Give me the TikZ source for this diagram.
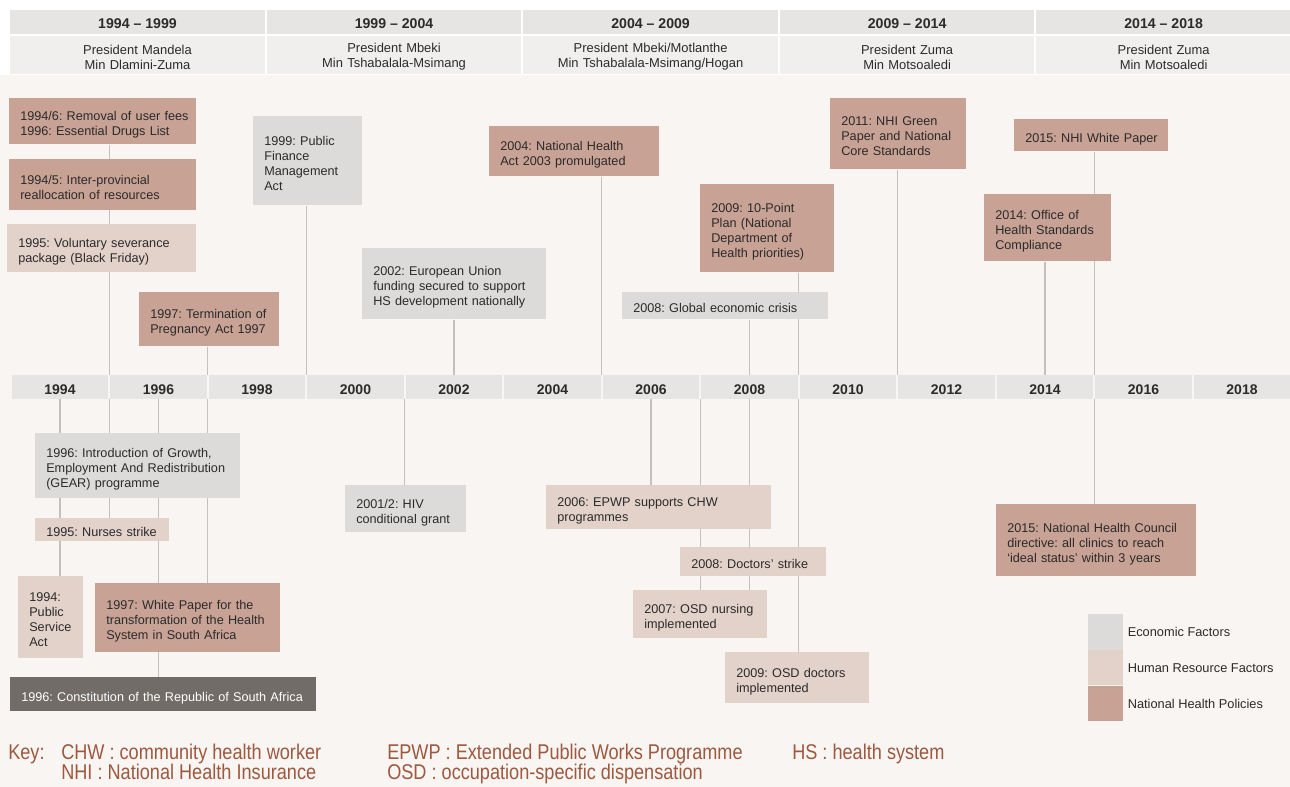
\documentclass[tikz,border=0pt]{standalone}
\usepackage{fontspec}
\setmainfont{Liberation Sans}
\newfontfamily\keyfont[FakeStretch=0.85]{Liberation Sans}
\usetikzlibrary{positioning}

\definecolor{cream}{HTML}{F9F5F2}
\definecolor{headA}{HTML}{E6E5E3}
\definecolor{headB}{HTML}{F0EFEE}
\definecolor{econ}{HTML}{DCDBD9}
\definecolor{hres}{HTML}{E3D2CA}
\definecolor{npol}{HTML}{C8A294}
\definecolor{darkbox}{HTML}{716C68}
\definecolor{stemgray}{HTML}{C4C0BD}
\definecolor{ink}{HTML}{2B2B2B}
\definecolor{keybrown}{HTML}{9E583E}

\pgfdeclarelayer{backdrop}
\pgfdeclarelayer{stems}
\pgfsetlayers{backdrop,stems,main}

\begin{document}
\frenchspacing
\begin{tikzpicture}[x=0.75pt, y=-0.75pt,
    every node/.style={text=ink, font=\fontsize{9.5}{11.25}\selectfont},
    evbox/.style 2 args={anchor=north west, inner sep=0pt, align=left, text height=13.8pt,
      minimum width=#1*0.75pt, minimum height=#2*0.75pt, text width=#1*0.75pt,
      execute at begin node={\leftskip=8.25pt}, execute at end node={\strut}},
    econ/.style={fill=econ},
    hres/.style={fill=hres},
    npol/.style={fill=npol},
    constbox/.style={fill=darkbox, text=white},
    stem/.style={draw=stemgray, line width=1.1pt},
    headyr/.style={anchor=north west, fill=headA, inner sep=0pt, minimum width=254.5*0.75pt,
      minimum height=24*0.75pt, text height=9.2pt, text depth=0pt,
      font=\fontsize{10.6}{12}\selectfont\bfseries},
    headld/.style={fill=headB, inner sep=0pt, align=center, text width=254.5*0.75pt,
      text height=9.6pt, minimum height=38*0.75pt, font=\fontsize{9.7}{11.25}\selectfont},
    yearcell/.style={fill=headA, inner sep=0pt, minimum width=96.5*0.75pt,
      minimum height=24*0.75pt, text height=11.2pt, text depth=0pt,
      font=\fontsize{10.5}{12}\selectfont\bfseries},
    swatch/.style={anchor=north west, inner sep=0pt, minimum width=35*0.75pt, minimum height=35.3*0.75pt},
    lgtext/.style={inner sep=0pt, font=\fontsize{9.6}{11}\selectfont},
    keytxt/.style={anchor=base west, inner sep=0pt, text=keybrown, font=\keyfont\fontsize{16}{18}\selectfont}]

\useasboundingbox (0,0) rectangle (1290,787);
\begin{pgfonlayer}{backdrop}
  \fill[cream] (0,75) rectangle (1290,787);
\end{pgfonlayer}

% terms of office
\node[headyr] (hd1) at (10,10) {1994 – 1999};
\node[headyr, right=1.5*0.75pt of hd1] (hd2) {1999 – 2004};
\node[headyr, right=1.5*0.75pt of hd2] (hd3) {2004 – 2009};
\node[headyr, right=1.5*0.75pt of hd3] (hd4) {2009 – 2014};
\node[headyr, right=1.5*0.75pt of hd4] (hd5) {2014 – 2018};
\node[headld, below=1.5*0.75pt of hd1] (ld1) {President Mandela\\Min Dlamini-Zuma};
\node[headld, below=1.5*0.75pt of hd2] (ld2) {President Mbeki\\Min Tshabalala-Msimang};
\node[headld, below=1.5*0.75pt of hd3] (ld3) {President Mbeki/Motlanthe\\Min Tshabalala-Msimang/Hogan};
\node[headld, below=1.5*0.75pt of hd4] (ld4) {President Zuma\\Min Motsoaledi};
\node[headld, below=1.5*0.75pt of hd5] (ld5) {President Zuma\\Min Motsoaledi};

% year axis
\foreach \yr in {1994,1996,...,2018}
  \node[yearcell] (a\yr) at ({60+(\yr-1994)*49.25},387) {\yr};
\foreach \yr in {1994,...,2018} {
  \coordinate (t\yr) at ({60+(\yr-1994)*49.25},375);
  \coordinate (b\yr) at ({60+(\yr-1994)*49.25},399);
}

% events above the axis
\node[evbox={187}{46}, npol] (fees) at (9,98) {1994/6: Removal of user fees\\1996: Essential Drugs List};
\node[evbox={187}{51}, npol] (realloc) at (9,159) {1994/5: Inter-provincial\\reallocation of resources};
\node[evbox={189}{48}, hres] (vsp) at (7,224) {1995: Voluntary severance\\package (Black Friday)};
\node[evbox={140}{54}, npol] (topact) at (139,292) {1997: Termination of\\Pregnancy Act 1997};
\node[evbox={109}{89}, econ] (pfma) at (253,116) {1999: Public\\Finance\\Management\\Act};
\node[evbox={184}{71}, econ] (eufund) at (362,248) {2002: European Union\\funding secured to support\\HS development nationally};
\node[evbox={170}{50}, npol] (nhact) at (489,126) {2004: National Health\\Act 2003 promulgated};
\node[evbox={134}{88}, npol] (tenpt) at (700,184) {2009: 10-Point\\Plan (National\\Department of\\Health priorities)};
\node[evbox={206}{27}, econ] (crisis) at (622,292) {2008: Global economic crisis};
\node[evbox={136}{71}, npol] (green) at (830,98) {2011: NHI Green\\Paper and National\\Core Standards};
\node[evbox={154}{32}, npol] (whitep) at (1014,119) {2015: NHI White Paper};
\node[evbox={127}{67}, npol] (ohsc) at (984,194) {2014: Office of\\Health Standards\\Compliance};

% events below the axis
\node[evbox={205}{65}, econ] (gear) at (35,433) {1996: Introduction of Growth,\\Employment And Redistribution\\(GEAR) programme};
\node[evbox={134}{23}, hres] (nurse) at (35,518) {1995: Nurses strike};
\node[evbox={65}{82}, hres] (psact) at (18,576) {1994:\\Public\\Service\\Act};
\node[evbox={185}{69}, npol] (wpaper) at (95,583) {1997: White Paper for the\\transformation of the Health\\System in South Africa};
\node[evbox={306}{34}, constbox] (const) at (10,677) {1996: Constitution of the Republic of South Africa};
\node[evbox={121}{47}, econ] (hiv) at (345,485) {2001/2: HIV\\conditional grant};
\node[evbox={225}{44}, hres] (epwp) at (546,485) {2006: EPWP supports CHW\\programmes};
\node[evbox={146}{29}, hres] (dstrike) at (680,547) {2008: Doctors’ strike};
\node[evbox={134}{48}, hres] (osdn) at (633,590) {2007: OSD nursing\\implemented};
\node[evbox={144}{51}, hres] (osdd) at (725,652) {2009: OSD doctors\\implemented};
\node[evbox={200}{72}, npol] (nhc) at (996,504) {2015: National Health Council\\directive: all clinics to reach\\‘ideal status’ within 3 years};

% stems to the axis
\begin{pgfonlayer}{stems}
  \draw[stem] (fees.south -| t1995) -- (t1995);
  \draw[stem] (topact.south -| t1997) -- (t1997);
  \draw[stem] (pfma.south -| t1999) -- (t1999);
  \draw[stem] (eufund.south -| t2002) -- (t2002);
  \draw[stem] (nhact.south -| t2005) -- (t2005);
  \draw[stem] (crisis.south -| t2008) -- (t2008);
  \draw[stem] (tenpt.south -| t2009) -- (t2009);
  \draw[stem] (green.south -| t2011) -- (t2011);
  \draw[stem] (ohsc.south -| t2014) -- (t2014);
  \draw[stem] (whitep.south -| t2015) -- (t2015);
  \draw[stem] (b1994) -- (psact.north -| b1994);
  \draw[stem] (b1995) -- (nurse.north -| b1995);
  \draw[stem] (b1996) -- (const.north -| b1996);
  \draw[stem] (b1997) -- (wpaper.north -| b1997);
  \draw[stem] (b2001) -- (hiv.north -| b2001);
  \draw[stem] (b2006) -- (epwp.north -| b2006);
  \draw[stem] (b2007) -- (osdn.north -| b2007);
  \draw[stem] (b2008) -- (osdn.north -| b2008);
  \draw[stem] (b2009) -- (osdd.north -| b2009);
  \draw[stem] (b2015) -- (nhc.north -| b2015);
\end{pgfonlayer}

% legend
\node[swatch, fill=econ] (lgeco) at (1088,614) {};
\node[swatch, fill=hres, below=0pt of lgeco] (lghr) {};
\node[swatch, fill=npol, below=0pt of lghr] (lgnp) {};
\node[lgtext, right=3pt of lgeco] (lteco) {Economic Factors};
\node[lgtext, right=3pt of lghr] (lthr) {Human Resource Factors};
\node[lgtext, right=3pt of lgnp] (ltnp) {National Health Policies};

% key
\node[keytxt] (keyhd) at (8,759) {Key:};
\node[keytxt] (kchw) at (61,759) {CHW : community health worker};
\node[keytxt] (knhi) at (61,780) {NHI : National Health Insurance};
\node[keytxt] (kepwp) at (387,759) {EPWP : Extended Public Works Programme};
\node[keytxt] (kosd) at (387,780) {OSD : occupation-specific dispensation};
\node[keytxt] (khs) at (792,759) {HS : health system};
\end{tikzpicture}
\end{document}
